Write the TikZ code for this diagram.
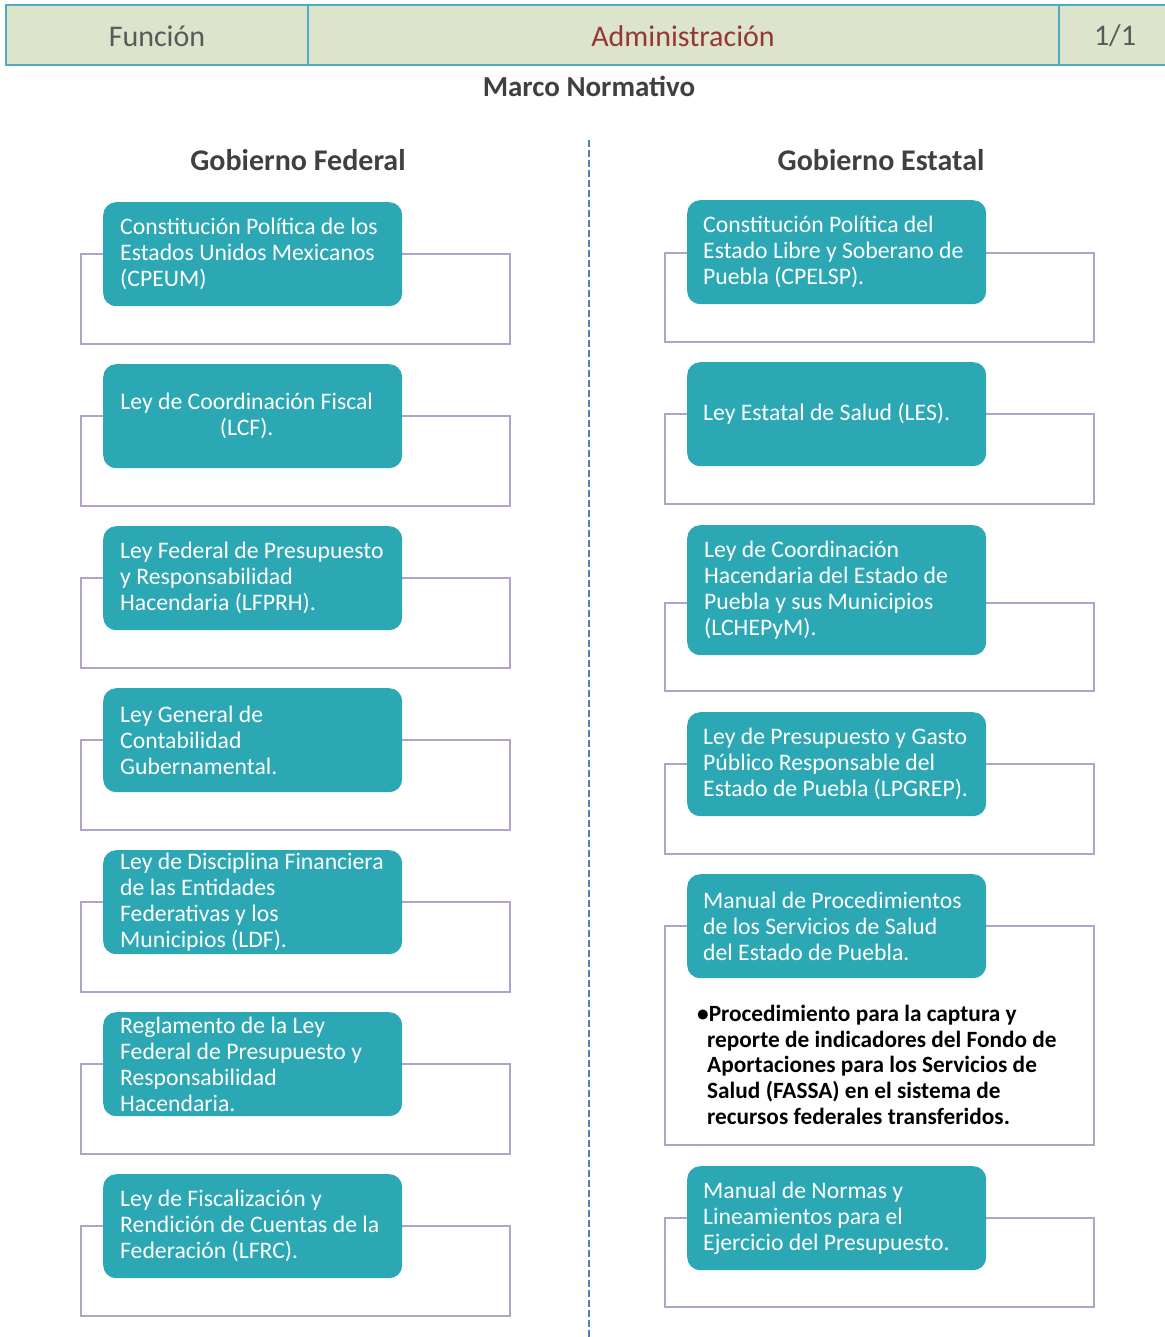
\documentclass[tikz,border=0pt]{standalone}
\usepackage{fontspec}
\setmainfont{Carlito}
\definecolor{tealc}{HTML}{2CA8B4}
\definecolor{purp}{HTML}{B3A2C7}
\definecolor{hdrfill}{HTML}{DDE4CC}
\definecolor{hdrline}{HTML}{4BACC6}
\definecolor{graytxt}{HTML}{595959}
\definecolor{redtxt}{HTML}{953734}
\definecolor{dashc}{HTML}{4F81BD}
\definecolor{darktxt}{HTML}{404040}
\begin{document}
\begin{tikzpicture}[x=1pt,y=-1pt,
  tbox/.style={fill=tealc, rounded corners=13pt, minimum width=299pt, minimum height=104pt, inner sep=0pt, anchor=north west},
  ttext/.style={text=white, font=\fontsize{23.7}{26}\selectfont, align=left, inner sep=0pt, anchor=west},
  frame/.style={draw=purp, line width=1.3pt},
  colhead/.style={font=\fontsize{30}{32}\selectfont\bfseries, text=darktxt, inner sep=0pt},
  hdrtxt/.style={font=\fontsize{30}{32}\selectfont, inner sep=0pt}
]
\useasboundingbox (0,0) rectangle (1164,1337);
\fill[white] (0,0) rectangle (1164,1337);

% header
\draw[fill=hdrfill, draw=hdrline, line width=1.2pt] (6,5) rectangle (1172,65);
\draw[hdrline, line width=1.2pt] (308,5) -- (308,65);
\draw[hdrline, line width=1.2pt] (1059,5) -- (1059,65);
\node[hdrtxt, text=graytxt] (hfun) at (157,36) {Función};
\node[hdrtxt, text=redtxt] (hadm) at (683,36) {Administración};
\node[hdrtxt, text=graytxt] (hpag) at (1115,36) {1/1};
\node[colhead, font=\fontsize{29}{32}\selectfont\bfseries] (marco) at (589,86) {Marco Normativo};

% divider
\coordinate (dtop) at (589,140);
\coordinate (dbot) at (589,1337);
\draw[dashc, line width=1.5pt, dash pattern=on 7pt off 3pt] (dtop) -- (dbot);

\node[colhead] (gf) at (298,160) {Gobierno Federal};
\node[colhead] (ge) at (881,160) {Gobierno Estatal};

% left column
\foreach \i/\y in {1/202,2/364,3/526,4/688,5/850,6/1012,7/1174}{
  \draw[frame] (81,\y+52) rectangle (510,\y+142);
  \node[tbox] (f\i) at (103,\y) {};
}
\node[ttext] (f1t) at ([xshift=17pt]f1.west) {Constitución Política de los\\Estados Unidos Mexicanos\\(CPEUM)};
\node[ttext, align=center, anchor=center] (f2t) at ([xshift=-6pt]f2.center) {Ley de Coordinación Fiscal\\(LCF).};
\node[ttext] (f3t) at ([xshift=17pt]f3.west) {Ley Federal de Presupuesto\\y Responsabilidad\\Hacendaria (LFPRH).};
\node[ttext] (f4t) at ([xshift=17pt]f4.west) {Ley General de\\Contabilidad\\Gubernamental.};
\node[ttext] (f5t) at ([xshift=17pt]f5.west) {Ley de Disciplina Financiera\\de las Entidades\\Federativas y los\\Municipios (LDF).};
\node[ttext] (f6t) at ([xshift=17pt]f6.west) {Reglamento de la Ley\\Federal de Presupuesto y\\Responsabilidad\\Hacendaria.};
\node[ttext] (f7t) at ([xshift=17pt]f7.west) {Ley de Fiscalización y\\Rendición de Cuentas de la\\Federación (LFRC).};

% right column
\draw[frame] (665,253) rectangle (1094,342);
\node[tbox] (e1) at (687,200) {};
\draw[frame] (665,414) rectangle (1094,504);
\node[tbox] (e2) at (687,362) {};
\draw[frame] (665,603) rectangle (1094,691);
\node[tbox, minimum height=130pt] (e3) at (687,525) {};
\draw[frame] (665,764) rectangle (1094,854);
\node[tbox] (e4) at (687,712) {};
\draw[frame] (665,926) rectangle (1094,1145);
\node[tbox] (e5) at (687,874) {};
\draw[frame] (665,1218) rectangle (1094,1307);
\node[tbox] (e6) at (687,1166) {};

\node[ttext] (e1t) at ([xshift=16pt]e1.west) {Constitución Política del\\Estado Libre y Soberano de\\Puebla (CPELSP).};
\node[ttext] (e2t) at ([xshift=16pt]e2.west) {Ley Estatal de Salud (LES).};
\node[ttext] (e3t) at ([xshift=17pt]e3.west) {Ley de Coordinación\\Hacendaria del Estado de\\Puebla y sus Municipios\\(LCHEPyM).};
\node[ttext] (e4t) at ([xshift=16pt]e4.west) {Ley de Presupuesto y Gasto\\Público Responsable del\\Estado de Puebla (LPGREP).};
\node[ttext] (e5t) at ([xshift=16pt]e5.west) {Manual de Procedimientos\\de los Servicios de Salud\\del Estado de Puebla.};
\node[ttext] (e6t) at ([xshift=16pt]e6.west) {Manual de Normas y\\Lineamientos para el\\Ejercicio del Presupuesto.};

\node[anchor=north west, inner sep=0pt, font=\fontsize{23.3}{25.7}\selectfont\bfseries, align=left] (bul) at (697,1005)
  {•Procedimiento para la captura y\\\hspace*{10pt}reporte de indicadores del Fondo de\\\hspace*{10pt}Aportaciones para los Servicios de\\\hspace*{10pt}Salud (FASSA) en el sistema de\\\hspace*{10pt}recursos federales transferidos.};
\end{tikzpicture}
\end{document}
